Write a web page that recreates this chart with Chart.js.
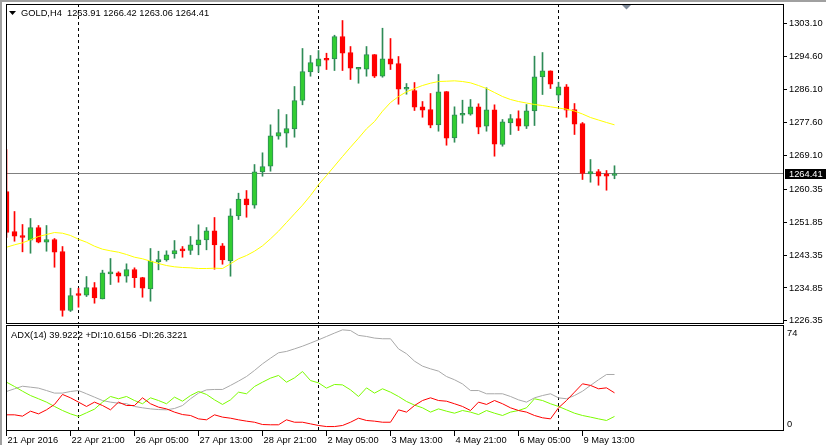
<!DOCTYPE html>
<html>
<head>
<meta charset="utf-8">
<title>GOLD,H4</title>
<script src="https://cdn.jsdelivr.net/npm/chart.js@4.4.1/dist/chart.umd.min.js"></script>
<style>
    html, body { margin: 0; padding: 0; background: #fff; }
    #wrap { position: relative; width: 826px; height: 445px; overflow: hidden; background: #fff; }
    #wrap canvas { position: absolute; left: 0; }
    #priceCanvas { top: 0; }
    #adxCanvas { top: 324px; }
    .edge { position: absolute; background: #a0a0a0; }
</style>
</head>
<body>
<div id="wrap">
    <canvas id="priceCanvas" width="826" height="325"></canvas>
    <canvas id="adxCanvas" width="826" height="121"></canvas>
    <div class="edge" style="left:0;top:0;width:826px;height:2px"></div>
    <div class="edge" style="left:0;top:0;width:2px;height:445px"></div>
</div>
<script>
// H4 bars, 21 Apr 2016 13:00 .. 10 May 2016 05:00
const opens = [1259.77, 1249.43, 1248.40, 1247.18, 1250.46, 1246.66, 1247.36, 1244.26, 1229.02, 1233.15,
    1232.97, 1234.96, 1232.04, 1238.50, 1238.76, 1237.88, 1239.61, 1237.54, 1234.62, 1241.60,
    1242.12, 1243.67, 1244.60, 1244.52, 1245.99, 1247.28, 1249.61, 1245.74, 1241.86, 1253.49,
    1257.88, 1256.23, 1264.86, 1266.30, 1274.05, 1274.83, 1275.97, 1283.28, 1290.70, 1292.14,
    1294.06, 1294.06, 1299.82, 1295.68, 1291.37, 1291.37, 1295.17, 1289.56, 1294.06, 1292.84,
    1286.20, 1285.86, 1281.65, 1280.96, 1277.00, 1285.61, 1273.64, 1279.48, 1279.74, 1281.65,
    1276.64, 1280.88, 1271.91, 1277.52, 1278.63, 1276.64, 1280.62, 1289.40, 1290.95, 1284.65,
    1286.82, 1280.96, 1277.34, 1264.34, 1264.93, 1264.34, 1263.91];
const highs = [1270.62, 1254.60, 1251.24, 1252.79, 1250.98, 1250.98, 1247.62, 1245.55, 1234.78, 1234.78,
    1237.80, 1236.25, 1239.43, 1242.45, 1239.02, 1241.08, 1240.05, 1237.60, 1245.04, 1244.34,
    1244.44, 1247.10, 1245.55, 1248.14, 1251.16, 1250.46, 1253.05, 1246.33, 1255.30, 1259.33,
    1260.02, 1266.74, 1269.77, 1277.00, 1280.95, 1279.66, 1286.90, 1296.72, 1294.91, 1296.20,
    1295.50, 1300.15, 1303.95, 1297.23, 1291.81, 1297.23, 1295.17, 1301.96, 1299.30, 1294.65,
    1287.67, 1287.93, 1283.02, 1285.09, 1290.00, 1285.61, 1281.65, 1283.36, 1283.54, 1282.43,
    1286.56, 1282.17, 1278.37, 1279.66, 1280.62, 1282.25, 1294.73, 1295.68, 1290.95, 1288.01,
    1287.41, 1282.50, 1277.60, 1268.03, 1265.45, 1265.19, 1266.42];
const lows = [1247.88, 1246.92, 1244.18, 1243.82, 1246.50, 1244.34, 1240.20, 1227.54, 1228.76, 1229.87,
    1232.63, 1230.90, 1232.00, 1235.73, 1236.33, 1236.33, 1234.96, 1232.45, 1231.42, 1239.53,
    1241.76, 1242.53, 1242.79, 1243.49, 1243.41, 1244.70, 1239.69, 1240.98, 1237.88, 1252.53,
    1253.12, 1255.45, 1263.72, 1265.01, 1273.28, 1271.21, 1273.80, 1282.17, 1289.56, 1290.59,
    1291.29, 1291.03, 1291.03, 1288.71, 1287.75, 1289.56, 1289.22, 1289.30, 1291.29, 1282.32,
    1284.91, 1280.70, 1278.96, 1276.23, 1275.35, 1271.73, 1272.50, 1277.41, 1279.48, 1274.68,
    1275.35, 1268.89, 1271.47, 1274.50, 1275.53, 1276.04, 1276.82, 1284.83, 1286.38, 1283.28,
    1278.96, 1274.50, 1262.87, 1262.17, 1261.39, 1260.10, 1263.06];
const closes = [1249.17, 1248.22, 1247.88, 1250.46, 1246.66, 1247.36, 1244.08, 1229.02, 1232.89, 1232.89,
    1234.96, 1232.30, 1238.76, 1238.76, 1237.88, 1239.61, 1237.47, 1234.78, 1241.76, 1242.19,
    1243.41, 1244.52, 1244.44, 1245.99, 1247.28, 1249.61, 1245.99, 1242.12, 1253.49, 1257.78,
    1256.33, 1264.86, 1266.23, 1274.16, 1275.01, 1276.04, 1283.28, 1290.77, 1293.10, 1294.06,
    1293.69, 1299.82, 1295.50, 1291.63, 1291.63, 1295.17, 1289.56, 1294.06, 1292.66, 1286.20,
    1286.56, 1281.55, 1280.77, 1276.90, 1285.53, 1273.54, 1279.58, 1279.84, 1281.65, 1276.38,
    1280.88, 1271.99, 1277.77, 1278.63, 1276.64, 1280.62, 1289.40, 1290.95, 1287.49, 1286.82,
    1280.77, 1277.16, 1264.42, 1264.93, 1263.72, 1263.72, 1264.41];
const maValues = [1245.37, 1245.99, 1246.51, 1247.29, 1248.14, 1248.65, 1249.17, 1248.99, 1248.40, 1247.44,
    1246.66, 1245.63, 1244.86, 1244.44, 1244.08, 1243.49, 1242.79, 1242.38, 1241.76, 1241.16,
    1240.64, 1240.31, 1240.13, 1240.05, 1239.87, 1239.87, 1239.95, 1239.87, 1241.08, 1242.38,
    1243.23, 1244.34, 1245.73, 1247.54, 1249.51, 1251.76, 1254.00, 1256.23, 1258.73, 1261.50,
    1263.90, 1266.35, 1268.81, 1271.21, 1273.54, 1275.97, 1277.85, 1280.52, 1282.76, 1284.31,
    1285.53, 1286.38, 1287.16, 1287.75, 1288.19, 1288.27, 1288.37, 1288.19, 1287.85, 1287.16,
    1286.38, 1285.35, 1284.31, 1283.54, 1283.02, 1282.63, 1282.25, 1281.99, 1281.65, 1281.34,
    1281.03, 1280.57, 1279.79, 1278.89, 1278.24, 1277.60, 1277.00];

// ADX(14)
const adxValues = [27.3, 29.3, 31.2, 30.5, 29.8, 28.0, 26.1, 26.1, 27.3, 28.0,
    25.6, 23.1, 20.6, 19.4, 18.6, 18.2, 16.2, 15.2, 14.4, 13.9,
    13.7, 14.7, 16.9, 21.9, 26.1, 28.5, 28.8, 28.8, 31.8, 35.0,
    38.4, 42.9, 47.8, 52.0, 56.0, 57.0, 58.9, 60.9, 63.2, 65.6,
    68.1, 70.6, 73.0, 72.5, 68.9, 68.1, 66.9, 66.4, 66.4, 58.9,
    55.3, 49.8, 46.1, 44.1, 42.4, 38.4, 36.0, 32.9, 28.0, 28.0,
    25.6, 25.6, 25.6, 23.6, 21.1, 19.4, 22.6, 24.3, 25.6, 22.6,
    21.9, 24.3, 27.5, 31.8, 36.0, 39.9, 39.9];
const plusDi = [34.2, 31.0, 27.5, 24.3, 21.9, 19.4, 16.2, 13.2, 10.7, 8.8,
    11.5, 14.2, 19.4, 23.6, 21.9, 23.6, 20.6, 18.2, 22.6, 20.6,
    18.2, 23.1, 20.1, 24.3, 27.3, 25.1, 21.1, 17.7, 21.1, 26.8,
    25.6, 31.0, 34.2, 37.2, 39.2, 34.2, 37.4, 42.1, 35.4, 33.7,
    29.8, 32.5, 32.2, 28.5, 23.6, 30.0, 26.1, 29.3, 26.8, 23.6,
    19.9, 17.2, 15.2, 12.0, 14.4, 12.7, 11.2, 13.2, 12.0, 10.2,
    13.2, 11.2, 9.5, 12.0, 13.2, 15.2, 21.9, 20.6, 18.2, 16.2,
    13.7, 11.2, 9.5, 8.3, 7.0, 5.8, 8.8];
const minusDi = [10.0, 10.0, 9.0, 12.7, 10.7, 13.7, 17.7, 25.1, 22.6, 19.4,
    16.2, 19.4, 16.9, 13.7, 19.4, 16.9, 16.9, 22.6, 18.2, 15.7,
    14.4, 12.0, 10.2, 9.5, 7.0, 6.3, 10.0, 8.3, 7.5, 6.3,
    5.3, 4.5, 2.8, 2.6, 2.6, 6.3, 4.5, 4.5, 3.3, 2.1,
    1.3, 1.3, 2.1, 4.5, 7.5, 5.8, 5.3, 4.5, 4.5, 13.7,
    12.0, 16.9, 20.6, 22.6, 20.6, 20.1, 18.2, 16.2, 13.2, 19.4,
    17.7, 20.6, 18.2, 15.2, 13.2, 12.0, 9.5, 7.8, 7.0, 15.2,
    20.6, 26.8, 33.0, 31.8, 29.3, 30.0, 26.3];

const priceTicks = [1303.10, 1294.60, 1286.10, 1277.60, 1269.10, 1260.35, 1251.85, 1243.35, 1234.85, 1226.35];
const timeTickBars = [0, 8, 16, 24, 32, 40, 48, 56, 64, 72];
const timeTickLabels = ["21 Apr 2016", "22 Apr 21:00", "26 Apr 05:00", "27 Apr 13:00", "28 Apr 21:00",
    "2 May 05:00", "3 May 13:00", "4 May 21:00", "6 May 05:00", "9 May 13:00"];
const weekStartBars = [9, 39, 69];

const titleText = "GOLD,H4  1263.91 1266.42 1263.06 1264.41";
const adxText = "ADX(14) 39.9222 +DI:10.6156 -DI:26.3221";

const FONT_FAMILY = "'Liberation Sans', Arial, sans-serif";
const FONT = "9.3px " + FONT_FAMILY;
Chart.defaults.font.family = FONT_FAMILY;
Chart.defaults.font.size = 9.3;
Chart.defaults.color = "#000";

const X_MIN = -0.0625;
const X_MAX = X_MIN + 778 / 8;
const lastPrice = closes[closes.length - 1];
const barIndex = closes.map((c, i) => i);
const bullish = barIndex.map((i) => closes[i] >= opens[i]);

const frameAndSeparators = {
    id: "frameAndSeparators",
    beforeDatasetsDraw(chart) {
        const { ctx, chartArea, scales } = chart;
        ctx.save();
        ctx.strokeStyle = "#000";
        ctx.lineWidth = 1;
        ctx.setLineDash([3, 3]);
        weekStartBars.forEach((bar) => {
            const x = Math.floor(scales.x.getPixelForValue(bar)) + 0.5;
            ctx.beginPath();
            ctx.moveTo(x, chartArea.top);
            ctx.lineTo(x, chartArea.bottom);
            ctx.stroke();
        });
        ctx.restore();
    },
    afterDraw(chart) {
        const { ctx, chartArea } = chart;
        ctx.save();
        ctx.strokeStyle = "#000";
        ctx.lineWidth = 1;
        ctx.strokeRect(Math.floor(chartArea.left) + 0.5, Math.floor(chartArea.top) + 0.5,
            Math.round(chartArea.right - chartArea.left) - 1, Math.round(chartArea.bottom - chartArea.top) - 1);
        ctx.restore();
    },
};

const priceOverlay = {
    id: "priceOverlay",
    beforeDatasetsDraw(chart) {
        const { ctx, chartArea, scales } = chart;
        const y = Math.floor(scales.y.getPixelForValue(lastPrice)) + 0.5;
        ctx.save();
        ctx.strokeStyle = "#808080";
        ctx.lineWidth = 1;
        ctx.beginPath();
        ctx.moveTo(chartArea.left, y);
        ctx.lineTo(chartArea.right, y);
        ctx.stroke();
        ctx.restore();
    },
    afterDraw(chart) {
        const { ctx, chartArea, scales } = chart;
        const y = Math.round(scales.y.getPixelForValue(lastPrice));
        ctx.save();
        // bid label
        ctx.fillStyle = "#000";
        ctx.fillRect(chartArea.right + 1, y - 5, 41, 10);
        ctx.fillStyle = "#fff";
        ctx.font = FONT;
        ctx.textBaseline = "middle";
        ctx.fillText(lastPrice.toFixed(2), chartArea.right + 5, y);
        // title
        ctx.fillStyle = "#000";
        ctx.beginPath();
        ctx.moveTo(9, 11);
        ctx.lineTo(16, 11);
        ctx.lineTo(12.5, 15);
        ctx.closePath();
        ctx.fill();
        ctx.fillText(titleText, 21, 13);
        // chart shift marker
        ctx.fillStyle = "#7f8a99";
        ctx.beginPath();
        ctx.moveTo(622, 5);
        ctx.lineTo(631, 5);
        ctx.lineTo(626.5, 9.5);
        ctx.closePath();
        ctx.fill();
        ctx.restore();
    },
};

const adxOverlay = {
    id: "adxOverlay",
    afterDraw(chart) {
        const { ctx, chartArea, scales } = chart;
        ctx.save();
        ctx.fillStyle = "#000";
        ctx.font = FONT;
        ctx.textBaseline = "middle";
        ctx.fillText(adxText, 11, chartArea.top + 10);
        ctx.fillText("74", chartArea.right + 3, scales.y.getPixelForValue(74) + 5);
        ctx.fillText("0", chartArea.right + 3, scales.y.getPixelForValue(0) - 4);
        ctx.restore();
    },
};

new Chart(document.getElementById("priceCanvas"), {
    type: "bar",
    data: {
        datasets: [
            {
                type: "line",
                data: barIndex.map((i) => ({ x: i, y: maValues[i] })),
                borderColor: "#ffff00",
                borderWidth: 1,
                pointRadius: 0,
                tension: 0,
                order: 0,
            },
            {
                data: barIndex.map((i) => ({ x: i, y: [opens[i], closes[i]] })),
                backgroundColor: bullish.map((b) => (b ? "#32cd32" : "#ff0000")),
                borderColor: bullish.map((b) => (b ? "#2e8b57" : "#ff0000")),
                borderWidth: 1,
                borderSkipped: false,
                barThickness: 5,
                minBarLength: 2,
                grouped: false,
                order: 1,
            },
            {
                data: barIndex.map((i) => ({ x: i, y: [lows[i], highs[i]] })),
                backgroundColor: bullish.map((b) => (b ? "#2e8b57" : "#ff0000")),
                borderWidth: 0,
                barThickness: 1,
                grouped: false,
                order: 2,
            },
        ],
    },
    options: {
        responsive: false,
        animation: false,
        devicePixelRatio: 1,
        events: [],
        layout: { padding: { left: 6, top: 4, right: 0, bottom: 1 } },
        plugins: { legend: { display: false }, tooltip: { enabled: false } },
        scales: {
            x: {
                type: "linear",
                min: X_MIN,
                max: X_MAX,
                offset: false,
                display: false,
                grid: { offset: false },
            },
            y: {
                position: "right",
                min: 1225.53,
                max: 1308.22,
                afterBuildTicks: (scale) => {
                    scale.ticks = priceTicks.map((v) => ({ value: v }));
                },
                afterFit: (scale) => {
                    scale.width = 42;
                    scale.paddingTop = 0;
                    scale.paddingBottom = 0;
                },
                border: { display: false },
                grid: { drawOnChartArea: false, drawTicks: true, tickLength: 3, color: "#000" },
                ticks: {
                    autoSkip: false,
                    padding: 2,
                    color: "#000",
                    callback: (value) => Number(value).toFixed(2),
                },
            },
        },
    },
    plugins: [frameAndSeparators, priceOverlay],
});

new Chart(document.getElementById("adxCanvas"), {
    type: "line",
    data: {
        datasets: [
            { data: barIndex.map((i) => ({ x: i, y: minusDi[i] })), borderColor: "#ff0000", order: 0 },
            { data: barIndex.map((i) => ({ x: i, y: plusDi[i] })), borderColor: "#7cfc00", order: 1 },
            { data: barIndex.map((i) => ({ x: i, y: adxValues[i] })), borderColor: "#a9a9a9", order: 2 },
        ],
    },
    options: {
        responsive: false,
        animation: false,
        devicePixelRatio: 1,
        events: [],
        layout: { padding: { left: 6, top: 1, right: 0, bottom: 0 } },
        elements: { line: { borderWidth: 1, tension: 0 }, point: { radius: 0 } },
        plugins: { legend: { display: false }, tooltip: { enabled: false } },
        scales: {
            x: {
                type: "linear",
                position: "bottom",
                min: X_MIN,
                max: X_MAX,
                offset: false,
                afterBuildTicks: (scale) => {
                    scale.ticks = timeTickBars.map((v) => ({ value: v }));
                },
                afterFit: (scale) => {
                    scale.height = 14;
                    scale.paddingLeft = 0;
                    scale.paddingRight = 0;
                },
                border: { display: false },
                grid: { drawOnChartArea: false, drawTicks: true, tickLength: 5, color: "#000", offset: false },
                ticks: {
                    align: "start",
                    labelOffset: 1,
                    padding: -1,
                    autoSkip: false,
                    maxRotation: 0,
                    color: "#000",
                    callback: (value, index) => timeTickLabels[index],
                },
            },
            y: {
                position: "right",
                min: -2.0,
                max: 76.6,
                afterFit: (scale) => {
                    scale.width = 42;
                    scale.paddingTop = 0;
                    scale.paddingBottom = 0;
                },
                border: { display: false },
                grid: { display: false },
                ticks: { display: false },
            },
        },
    },
    plugins: [frameAndSeparators, adxOverlay],
});
</script>
</body>
</html>
